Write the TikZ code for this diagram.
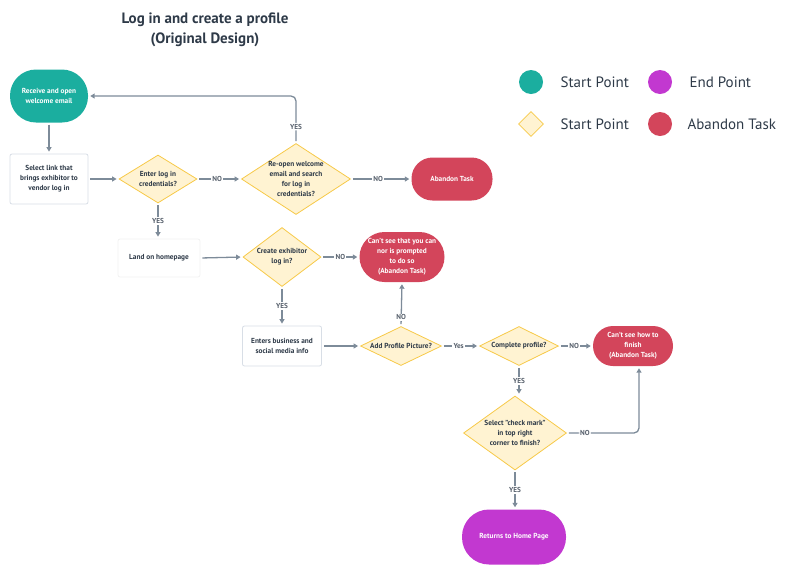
\documentclass[tikz,border=0pt]{standalone}
\usepackage{fontspec}
\setmainfont{PT Sans}
\usetikzlibrary{shapes.geometric,arrows.meta}
\definecolor{teal1}{HTML}{1BAE9F}
\definecolor{red1}{HTML}{D3455B}
\definecolor{purp}{HTML}{C238D0}
\definecolor{dfill}{HTML}{FFF3D2}
\definecolor{dline}{HTML}{F7C948}
\definecolor{cline}{HTML}{7D8B99}
\definecolor{ink}{HTML}{2E3A48}
\definecolor{bline}{HTML}{D8DEE6}
\begin{document}
\begin{tikzpicture}[x=1pt,y=-1pt,
 txt/.style={font=\fontsize{7.3}{10}\selectfont\bfseries, text=ink, align=center},
 wtxt/.style={font=\fontsize{7.3}{10}\selectfont\bfseries, text=white, align=center},
 dia/.style={diamond, draw=dline, fill=dfill, line width=0.8pt, inner sep=0pt},
 box/.style={rectangle, draw=bline, fill=white, rounded corners=2pt, line width=0.8pt},
 term/.style={rectangle, inner sep=0pt},
 conn/.style={draw=cline, line width=1.3pt, -{Triangle[length=4.5pt,width=5pt]}, shorten <=2pt, shorten >=2pt},
 lbl/.style={font=\fontsize{7.2}{8}\selectfont\bfseries, text=ink!80, fill=white, inner sep=1.2pt},
 legtxt/.style={anchor=west, font=\fontsize{15}{17}\selectfont, text=ink},
]
\useasboundingbox (0,0) rectangle (786,574);

% title
\node[font=\fontsize{15}{20}\selectfont\bfseries, text=ink, align=center] (title) at (205,30) {Log in and create a profile\\(Original Design)};

% legend
\node[circle, fill=teal1, minimum size=24pt, inner sep=0pt] (lg1) at (531,82) {};
\node[legtxt] (lt1) at (557,82) {Start Point};
\node[circle, fill=purp, minimum size=24pt, inner sep=0pt] (lg2) at (660,82) {};
\node[legtxt] (lt2) at (686,82) {End Point};
\node[dia, minimum width=25pt, minimum height=25pt] (lg3) at (531,124) {};
\node[legtxt] (lt3) at (557,124) {Start Point};
\node[circle, fill=red1, minimum size=24pt, inner sep=0pt] (lg4) at (660,124) {};
\node[legtxt] (lt4) at (684,124) {Abandon Task};

% nodes
\node[term, fill=teal1, minimum width=78pt, minimum height=53pt, rounded corners=26pt, wtxt] (start) at (49,96) {Receive and open\\welcome email};
\node[box, minimum width=78pt, minimum height=50pt, txt] (sel) at (49,179) {Select link that\\brings exhibitor to\\vendor log in};
\node[dia, minimum width=78pt, minimum height=48pt] (d1) at (158,179) {};
\node[txt] (d1t) at (d1) {Enter log in\\credentials?};
\node[dia, minimum width=109pt, minimum height=71pt] (d2) at (296,179) {};
\node[txt] (d2t) at (d2) {Re-open welcome\\email and search\\for log in\\credentials?};
\node[term, fill=red1, minimum width=81pt, minimum height=43pt, rounded corners=21pt, wtxt] (ab1) at (452,179) {Abandon Task};
\node[box, draw=black!5, minimum width=82pt, minimum height=38pt, txt] (land) at (159,258) {Land on homepage};
\node[dia, minimum width=78pt, minimum height=59pt] (d3) at (282,257) {};
\node[txt] (d3t) at (d3) {Create exhibitor\\log in?};
\node[term, fill=red1, minimum width=85pt, minimum height=50pt, rounded corners=25pt, wtxt] (ab2) at (402,257) {Can't see that you can\\nor is prompted\\to do so\\(Abandon Task)};
\node[box, minimum width=79pt, minimum height=40pt, txt] (ent) at (282,346) {Enters business and\\social media info};
\node[dia, minimum width=81pt, minimum height=39pt] (d4) at (401,346) {};
\node[txt] (d4t) at (d4) {Add Profile Picture?};
\node[dia, minimum width=79pt, minimum height=39pt] (d5) at (519,346) {};
\node[txt] (d5t) at (d5) {Complete profile?};
\node[term, fill=red1, minimum width=80pt, minimum height=40pt, rounded corners=20pt, wtxt] (ab3) at (633,346) {Can't see how to\\finish\\(Abandon Task)};
\node[dia, minimum width=103pt, minimum height=74pt] (d6) at (515,433) {};
\node[txt] (d6t) at (d6) {Select "check mark"\\in top right\\corner to finish?};
\node[term, fill=purp, minimum width=104pt, minimum height=55pt, rounded corners=27pt, wtxt] (end) at (514,537) {Returns to Home Page};

% connectors
\draw[conn] (start.south) -- (sel.north);
\draw[conn] (sel.east) -- (d1.west);
\draw[conn] (d1.east) -- node[lbl, pos=0.45]{NO} (d2.west);
\draw[conn, rounded corners=5pt] (d2.north) -- node[lbl, pos=0.35]{YES} (d2.north |- start.east) -- (start.east);
\draw[conn] (d2.east) -- node[lbl, pos=0.45]{NO} (ab1.west);
\draw[conn] (d1.south) -- node[lbl]{YES} (land.north -| d1.south);
\draw[conn] (land.east) -- (d3.west);
\draw[conn] (d3.east) -- node[lbl]{NO} (ab2.west);
\draw[conn] (d3.south) -- node[lbl]{YES} (ent.north);
\draw[conn] (ent.east) -- (d4.west);
\draw[conn] (d4.north) -- node[lbl, pos=0.2]{NO} (ab2.south);
\draw[conn] (d4.east) -- node[lbl, pos=0.45]{Yes} (d5.west);
\draw[conn] (d5.east) -- node[lbl, pos=0.45]{NO} (ab3.west);
\draw[conn] (d5.south) -- node[lbl]{YES} (d6.north -| d5.south);
\draw[conn, rounded corners=5pt] (d6.east) -- node[lbl, pos=0.25]{NO} ([xshift=6pt]ab3.south |- d6.east) -- ([xshift=6pt]ab3.south);
\draw[conn] (d6.south) -- node[lbl]{YES} (end.north -| d6.south);
\end{tikzpicture}
\end{document}
